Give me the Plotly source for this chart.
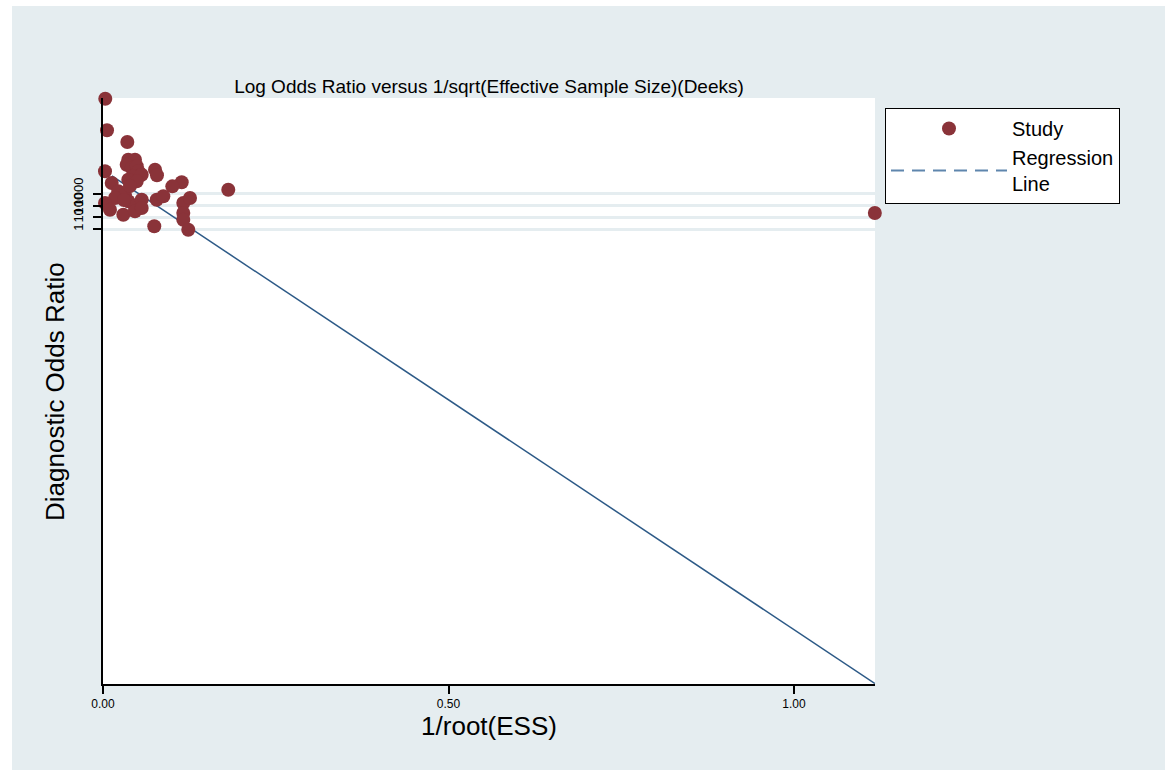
import math
import plotly.graph_objects as go

# Study data: x = 1/sqrt(ESS), y = log diagnostic odds ratio (ln DOR)
inv_root_ess = [0.0033, 0.0058, 0.0352, 0.0366, 0.0463, 0.0343, 0.0415, 0.0488, 0.0029,
                0.0753, 0.0781, 0.0511, 0.0438, 0.0560, 0.0366, 0.0488, 0.1139, 0.1003,
                0.1813, 0.0126, 0.0221, 0.0318, 0.0174, 0.0366, 0.0463, 0.0560, 0.0777,
                0.0873, 0.0029, 0.0101, 0.0294, 0.0463, 0.0560, 0.1162, 0.1259, 0.1162,
                0.1162, 0.0742, 0.1234, 1.1170, 0.0390, 0.0304]
log_dor = [25.71, 19.47, 17.17, 13.67, 13.67, 12.69, 12.04, 12.37, 11.38,
           11.70, 10.60, 11.38, 10.40, 10.71, 9.73, 9.41, 9.21, 8.42,
           7.75, 9.08, 7.44, 6.77, 6.12, 5.47, 4.48, 5.78, 5.78,
           6.45, 5.13, 3.81, 2.82, 3.49, 4.14, 5.13, 6.12, 3.16,
           1.83, 0.53, -0.14, 3.16, 8.48, 5.72]

# Regression (Deeks) line coefficients
reg_intercept = 11.64
reg_slope = -90.7

# Axis ticks
x_tickvals = [0.0, 0.5, 1.0]
x_ticktext = ["0.00", "0.50", "1.00"]
y_tick_dor = [1, 10, 100, 1000]

BG = "#e5edf0"
MAROON = "#8a3339"
LINE_COL = "#2d5a87"
LEG_LINE = "#5f86ad"
FONT = "Liberation Sans, Arial, sans-serif"

xmin = min(inv_root_ess)
xmax = max(inv_root_ess)
reg_x = [xmin + 0.01, xmax]
reg_y = [reg_intercept + reg_slope * v for v in reg_x]

fig = go.Figure()

fig.add_trace(go.Scatter(
    x=reg_x, y=reg_y, mode="lines",
    line=dict(color=LINE_COL, width=1.5),
    showlegend=False, hoverinfo="skip", cliponaxis=False,
))
fig.add_trace(go.Scatter(
    x=inv_root_ess, y=log_dor, mode="markers", name="Study",
    marker=dict(color=MAROON, size=14, line=dict(width=0)),
    cliponaxis=False,
))
fig.add_trace(go.Scatter(
    x=[None], y=[None], mode="lines", name="Regression<br>Line",
    line=dict(color=LEG_LINE, width=1.8, dash="13px,8px"),
))

# Plot-area pixel geometry
L, R, T, B = 103, 875, 98, 684
W, H = 1165, 770
pw, ph = R - L, B - T

def px_x(p):
    return (p - L) / pw

def px_y(p):
    return (B - p) / ph

fig.update_layout(
    width=W, height=H,
    margin=dict(l=L, r=W - R, t=T, b=H - B, pad=0),
    paper_bgcolor=BG,
    plot_bgcolor="white",
    font=dict(family=FONT, color="black"),
    title=dict(
        text="Log Odds Ratio versus 1/sqrt(Effective Sample Size)(Deeks)",
        x=px_x(489), xref="paper", xanchor="center",
        y=1 - 86 / H, yref="container", yanchor="middle",
        font=dict(size=19, family=FONT, color="black"),
    ),
    xaxis=dict(
        range=[0, pw / 691.0], tickvals=x_tickvals, ticktext=x_ticktext,
        showgrid=False, zeroline=False,
        showline=True, linecolor="black", linewidth=2,
        ticks="outside", ticklen=8, tickwidth=2, tickcolor="black",
        tickfont=dict(size=12, family=FONT),
        title=dict(text="1/root(ESS)", font=dict(size=26, family=FONT), standoff=6),
    ),
    yaxis=dict(
        range=[-(B - 229) * math.log(10) / 11.67, (229 - T) * math.log(10) / 11.67],
        tickvals=[math.log(v) for v in y_tick_dor],
        ticktext=[str(v) for v in y_tick_dor],
        tickangle=-90,
        showgrid=True, gridcolor=BG, gridwidth=2.5,
        zeroline=False,
        showline=True, linecolor="black", linewidth=2,
        ticks="outside", ticklen=8, tickwidth=2, tickcolor="black",
        tickfont=dict(size=13, family=FONT),
        ticklabelstandoff=5,
    ),
    legend=dict(
        x=px_x(885), y=px_y(108), xanchor="left", yanchor="top",
        bgcolor="white", bordercolor="black", borderwidth=1,
        font=dict(size=20, family=FONT),
        itemwidth=116, tracegroupgap=2,
    ),
    annotations=[
        dict(text="Diagnostic Odds Ratio", textangle=-90, showarrow=False,
             xref="paper", yref="paper", x=px_x(55), y=px_y(392),
             xanchor="center", yanchor="middle",
             font=dict(size=26, family=FONT, color="black")),
    ],
    shapes=[
        dict(type="rect", xref="paper", yref="paper",
             x0=px_x(0) - 0.01, x1=px_x(12), y0=px_y(H) - 0.01, y1=px_y(0) + 0.01,
             fillcolor="white", line=dict(width=0), layer="below"),
        dict(type="rect", xref="paper", yref="paper",
             x0=px_x(0) - 0.01, x1=px_x(W) + 0.01, y0=px_y(6), y1=px_y(0) + 0.01,
             fillcolor="white", line=dict(width=0), layer="below"),
    ],
)

fig.write_html("out.html")
